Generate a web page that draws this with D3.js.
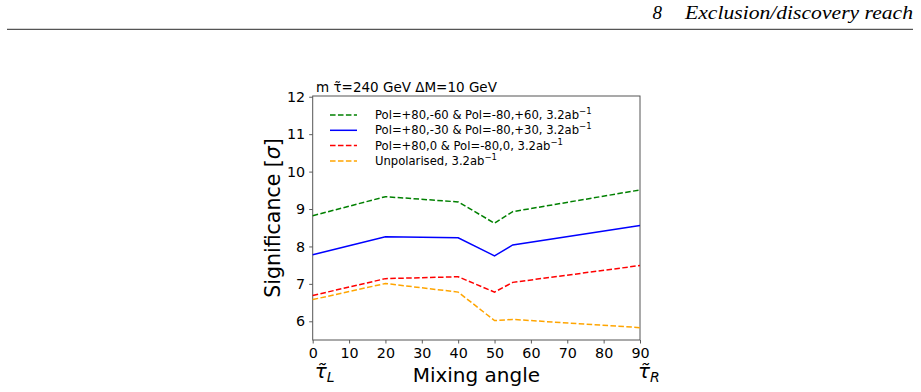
<!doctype html>
<html lang="en">
<head>
<meta charset="utf-8">
<title>Significance vs mixing angle</title>
<script src="https://cdn.jsdelivr.net/npm/d3@7"></script>
<style>
  body { margin: 0; background: #fff; }
  svg text { font-family: "DejaVu Sans", sans-serif; fill: #000; }
</style>
</head>
<body>
<svg id="chart" width="921" height="392"></svg>
<script>
// mixing angles (x values)
const angles = [0, 20, 40, 50, 55, 90];

const pol60 = [8.82, 9.33, 9.19, 8.62, 8.93, 9.51];
const pol30 = [7.78, 8.26, 8.23, 7.75, 8.04, 8.56];
const pol0 = [6.69, 7.14, 7.19, 6.78, 7.04, 7.49];
const unpol = [6.58, 7.01, 6.78, 6.02, 6.05, 5.83];

const seriesNames = [
  'Pol=+80,-60 & Pol=-80,+60, 3.2ab',
  'Pol=+80,-30 & Pol=-80,+30, 3.2ab',
  'Pol=+80,0 & Pol=-80,0, 3.2ab',
  'Unpolarised, 3.2ab'
];
const xTicks = [0, 10, 20, 30, 40, 50, 60, 70, 80, 90];
const yTicks = [6, 7, 8, 9, 10, 11, 12];

const series = [
  { name: seriesNames[0], values: pol60, color: 'green', dash: '5.55,2.4' },
  { name: seriesNames[1], values: pol30, color: 'blue', dash: null },
  { name: seriesNames[2], values: pol0, color: 'red', dash: '5.55,2.4' },
  { name: seriesNames[3], values: unpol, color: 'orange', dash: '5.55,2.4' }
];

const svg = d3.select('#chart');

// page header like the thesis page
svg.append('text')
    .attr('x', 685).attr('y', 18.5)
    .attr('textLength', 228)
    .attr('lengthAdjust', 'spacingAndGlyphs')
    .style('font-family', '"Liberation Serif", serif')
    .style('font-style', 'italic')
    .style('font-size', '19px')
    .text('Exclusion/discovery reach');
svg.append('text')
    .attr('x', 652.5).attr('y', 18.5)
    .style('font-family', '"Liberation Serif", serif')
    .style('font-style', 'italic')
    .style('font-size', '19px')
    .text('8');
svg.append('line')
    .attr('x1', 7).attr('x2', 913)
    .attr('y1', 29.4).attr('y2', 29.4)
    .style('stroke', '#555')
    .style('stroke-width', 1.3);

const pl = 312.7, pr = 640, pt = 96, pb = 340;

const x = d3.scaleLinear().domain([0, 90]).range([pl, pr]);
const y = d3.scaleLinear().domain([5.5, 12.02]).range([pb, pt]);

const g = svg.append('g');

const xAxis = g.append('g')
    .attr('transform', 'translate(0,' + pb + ')')
    .call(d3.axisBottom(x).tickValues(xTicks).tickFormat(d3.format('d')).tickSize(3.5).tickPadding(4));
const yAxis = g.append('g')
    .attr('transform', 'translate(' + pl + ',0)')
    .call(d3.axisLeft(y).tickValues(yTicks).tickFormat(d3.format('d')).tickSize(3.5).tickPadding(4));

[xAxis, yAxis].forEach(a => {
  a.select('.domain').remove();
  a.selectAll('.tick line').style('stroke', '#333').style('stroke-width', 0.8);
  a.selectAll('.tick text')
      .style('font-family', '"DejaVu Sans", sans-serif')
      .style('font-size', '14.3px')
      .style('fill', '#000');
});

// frame
g.append('rect')
    .attr('x', pl).attr('y', pt)
    .attr('width', pr - pl).attr('height', pb - pt)
    .style('fill', 'none')
    .style('stroke', '#555')
    .style('stroke-width', 1);

const line = d3.line()
    .x((d, i) => x(angles[i]))
    .y(d => y(d));

g.selectAll('path.series')
  .data(series)
  .join('path')
    .attr('class', 'series')
    .attr('d', d => line(d.values))
    .style('fill', 'none')
    .style('stroke', d => d.color)
    .style('stroke-width', 1.5)
    .style('stroke-dasharray', d => d.dash);

// legend
const leg = g.append('g');
series.forEach((s, i) => {
  const ly = 115 + i * 15.3;
  leg.append('line')
      .attr('x1', 330).attr('x2', 357)
      .attr('y1', ly).attr('y2', ly)
      .style('stroke', s.color)
      .style('stroke-width', 1.5)
      .style('stroke-dasharray', s.dash);
  const t = leg.append('text')
      .attr('x', 375).attr('y', ly + 4)
      .style('font-size', '11.6px')
      .text(s.name);
  t.append('tspan')
      .attr('dy', -5)
      .style('font-size', '8.5px')
      .text('\u22121');
});

// title
svg.append('text')
    .attr('x', 316).attr('y', 92)
    .style('font-size', '13.5px')
    .text('m \u03c4\u0303=240 GeV \u0394M=10 GeV');

// axis labels
svg.append('text')
    .attr('x', (pl + pr) / 2).attr('y', 382)
    .attr('text-anchor', 'middle')
    .style('font-size', '20px')
    .text('Mixing angle');

const yl = svg.append('text')
    .attr('transform', 'translate(280,' + ((pt + pb) / 2) + ') rotate(-90)')
    .attr('text-anchor', 'middle')
    .style('font-size', '20.5px')
    .text('Significance [');
yl.append('tspan').style('font-style', 'italic').text('\u03c3');
yl.append('tspan').text(']');

// tau labels under the axis ends
[['L', 0, 2], ['R', 90, -2]].forEach(([sub, v, dx]) => {
  const t = svg.append('text')
      .attr('x', x(v) + dx).attr('y', 378)
      .style('font-size', '20px')
      .style('font-style', 'italic');
  t.append('tspan').text('\u03c4\u0303');
  t.append('tspan').attr('dy', 4).style('font-size', '14px').text(sub);
});
</script>
</body>
</html>
